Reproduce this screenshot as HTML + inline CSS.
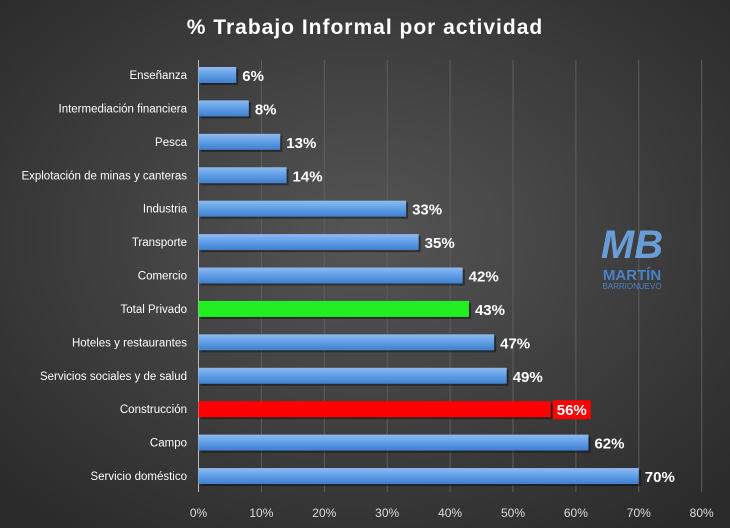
<!DOCTYPE html>
<html><head><meta charset="utf-8"><style>
html,body{margin:0;padding:0;width:730px;height:528px;overflow:hidden;background:#3a3a3a}
svg{display:block;font-family:"Liberation Sans",Calibri,sans-serif}
</style></head><body>
<svg id="chart" width="730" height="528">
<defs>
<radialGradient id="bg" cx="50%" cy="45%" r="70%">
<stop offset="0" stop-color="#555"/><stop offset="1" stop-color="#2a2a2a"/></radialGradient>
<linearGradient id="blue" x1="0" y1="0" x2="0" y2="1">
<stop offset="0" stop-color="#8fbaf0"/><stop offset="0.5" stop-color="#5f9ee6"/><stop offset="1" stop-color="#3f7fcc"/></linearGradient>
</defs>
<rect width="730" height="528" fill="url(#bg)"/>
<text x="365" y="34" text-anchor="middle" fill="#fff" font-size="21" font-weight="bold" letter-spacing="1">% Trabajo Informal por actividad</text>
<g id="grid"></g><g id="bars"></g><g id="labels"></g>
<g opacity="0.9">
<text x="632" y="258" text-anchor="middle" fill="#6fa8e8" font-size="40" font-weight="bold" font-style="italic">MB</text>
<text x="632" y="280" text-anchor="middle" fill="#4a8ad8" font-size="15" font-weight="bold">MARTÍN</text>
<text x="632" y="289" text-anchor="middle" fill="#4a8ad8" font-size="8">BARRIONUEVO</text>
</g>
</svg>
<script>
const categories=["Enseñanza","Intermediación financiera","Pesca","Explotación de minas y canteras","Industria","Transporte","Comercio","Total Privado","Hoteles y restaurantes","Servicios sociales y de salud","Construcción","Campo","Servicio doméstico"];
const values=[6,8,13,14,33,35,42,43,47,49,56,62,70];
const ticks=[0,10,20,30,40,50,60,70,80];
const x0=198.5,pxPer=6.29,y0=75,step=33.42,bh=16;
const xs=v=>x0+v*pxPer, ys=i=>y0+i*step;
const NS="http://www.w3.org/2000/svg";
const g=document.getElementById('grid'),b=document.getElementById('bars'),l=document.getElementById('labels');
function mk(tag,attrs,parent){const e=document.createElementNS(NS,tag);for(const k in attrs)e.setAttribute(k,attrs[k]);parent.appendChild(e);return e;}
ticks.forEach(t=>{
 const ln=mk('line',{x1:xs(t),x2:xs(t),y1:60,y2:492,stroke:t===0?'#bbb':'#5e5e5e','stroke-width':1},g);
 
 
 const tx=mk('text',{x:xs(t),y:517,'text-anchor':'middle',fill:'#ddd','font-size':12},g);
 tx.textContent=t+'%';
 
 
});
categories.forEach((c,i)=>{
 const y=ys(i);
 const col=c==="Total Privado"?'#22ee22':c==="Construcción"?'#ff0000':'url(#blue)';
 mk('rect',{x:xs(0)+2,y:y-bh/2+2,width:xs(values[i])-xs(0),height:bh,fill:'rgba(0,0,0,0.4)'},b);
 const r=mk('rect',{x:xs(0),y:y-bh/2,width:xs(values[i])-xs(0),height:bh,fill:col},b);
 
 
 const cl=mk('text',{x:187,y:y+4,'text-anchor':'end',fill:'#fff','font-size':11.5},l);
 cl.textContent=c;
 
 
 const vx=xs(values[i])+6;
 if(c==="Construcción"){mk('rect',{x:vx-4,y:y-bh/2-1,width:38,height:bh+3,fill:'#ff0000'},l);}
 const vl=mk('text',{x:vx,y:y+6,fill:'#fff','font-size':15,'font-weight':'bold'},l);
 vl.textContent=values[i]+'%';
 
 
});
</script>
</body></html>
